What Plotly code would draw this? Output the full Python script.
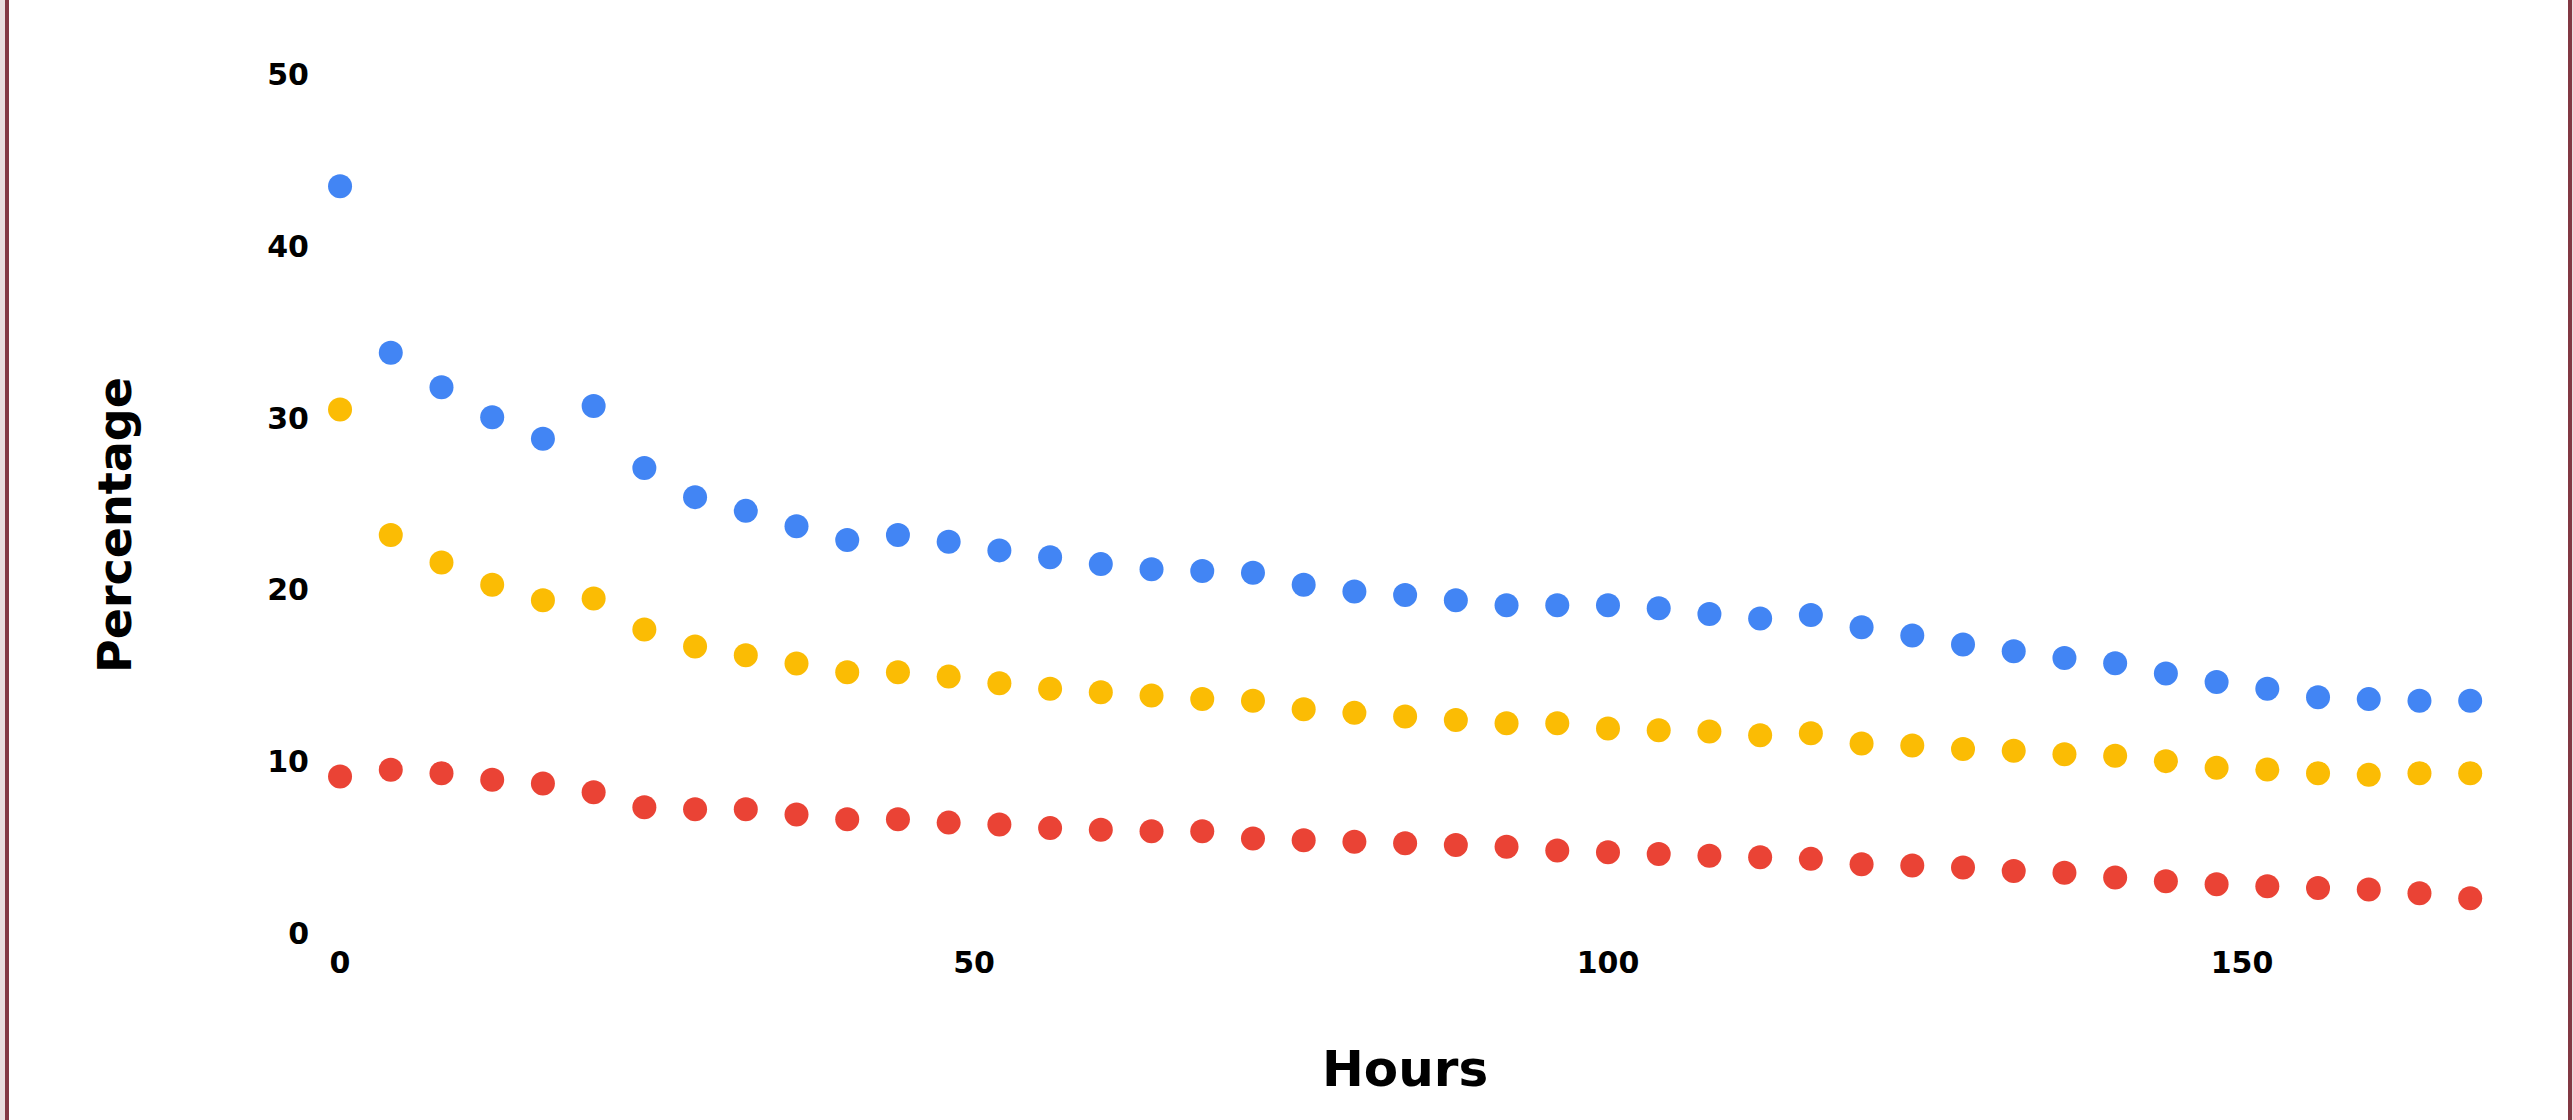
import plotly.graph_objects as go

hours = [0, 4, 8, 12, 16, 20, 24, 28, 32, 36, 40, 44, 48, 52, 56, 60, 64, 68, 72, 76, 80,
         84, 88, 92, 96, 100, 104, 108, 112, 116, 120, 124, 128, 132, 136, 140, 144, 148,
         152, 156, 160, 164, 168]

blue_vals = [43.5, 33.8, 31.8, 30.05, 28.8, 30.7, 27.1, 25.4, 24.6, 23.7, 22.9, 23.2, 22.8,
             22.3, 21.9, 21.5, 21.2, 21.1, 21.0, 20.3, 19.9, 19.7, 19.4, 19.1, 19.1, 19.1,
             18.93, 18.6, 18.33, 18.54, 17.83, 17.34, 16.82, 16.43, 16.04, 15.73, 15.13,
             14.64, 14.25, 13.75, 13.64, 13.55, 13.55]

yellow_vals = [30.5, 23.2, 21.6, 20.3, 19.4, 19.5, 17.7, 16.7, 16.2, 15.72, 15.2, 15.2, 14.95,
               14.56, 14.25, 14.04, 13.85, 13.65, 13.55, 13.05, 12.84, 12.63, 12.42, 12.24,
               12.24, 11.93, 11.83, 11.75, 11.54, 11.65, 11.05, 10.94, 10.73, 10.63, 10.43,
               10.34, 10.03, 9.64, 9.54, 9.33, 9.23, 9.33, 9.33]

red_vals = [9.14, 9.53, 9.33, 8.94, 8.73, 8.22, 7.35, 7.23, 7.23, 6.92, 6.64, 6.64, 6.45,
            6.34, 6.13, 6.03, 5.95, 5.95, 5.53, 5.43, 5.33, 5.25, 5.15, 5.04, 4.83, 4.73,
            4.62, 4.52, 4.44, 4.34, 4.03, 3.95, 3.84, 3.64, 3.53, 3.25, 3.04, 2.86, 2.75,
            2.65, 2.55, 2.34, 2.05]

series = [
    ("Blue", blue_vals, "#4285F4"),
    ("Yellow", yellow_vals, "#FBBC04"),
    ("Red", red_vals, "#EA4335"),
]

x_ticks = [0, 50, 100, 150]
y_ticks = [0, 10, 20, 30, 40, 50]

W, H = 2573, 1120
L, R, T, B = 310, 63, 66, 178
PW = W - L - R
PH = H - T - B

def px_to_xp(px):
    return (px - L) / PW

def px_to_yp(py):
    return (H - B - py) / PH

FONT = "DejaVu Sans"

fig = go.Figure()
for name, vals, color in series:
    fig.add_trace(go.Scatter(
        x=hours, y=vals, mode="markers", name=name,
        marker=dict(color=color, size=24, line=dict(width=0)),
        showlegend=False,
    ))

fig.update_layout(
    width=W, height=H,
    margin=dict(l=L, r=R, t=T, b=B, pad=0),
    paper_bgcolor="white", plot_bgcolor="white",
    font=dict(family=FONT, color="black"),
    xaxis=dict(
        range=[-2.37, 171.14], tickvals=x_ticks, ticktext=[str(v) for v in x_ticks],
        showgrid=False, zeroline=False, showline=False, ticks="",
        tickfont=dict(family=FONT, size=30, color="black", weight="bold"),
    ),
    yaxis=dict(
        range=[-0.5, 50.5], tickvals=y_ticks, ticktext=[str(v) for v in y_ticks],
        showgrid=False, zeroline=False, showline=False, ticks="",
        tickfont=dict(family=FONT, size=30, color="black", weight="bold"),
    ),
    annotations=[
        dict(text="<b>Hours</b>", xref="paper", yref="paper",
             x=px_to_xp(1405), y=px_to_yp(1069), xanchor="center", yanchor="middle",
             showarrow=False, font=dict(family=FONT, size=50, color="black")),
        dict(text="<b>Percentage</b>", xref="paper", yref="paper",
             x=px_to_xp(115), y=px_to_yp(525), xanchor="center", yanchor="middle",
             textangle=-90, showarrow=False, font=dict(family=FONT, size=46, color="black")),
    ],
    shapes=[
        dict(type="rect", xref="paper", yref="paper", x0=px_to_xp(-2), x1=px_to_xp(5),
             y0=px_to_yp(H + 5), y1=px_to_yp(-5), fillcolor="#e8dcdd", line=dict(width=0), layer="above"),
        dict(type="rect", xref="paper", yref="paper", x0=px_to_xp(5), x1=px_to_xp(9),
             y0=px_to_yp(H + 5), y1=px_to_yp(-5), fillcolor="#823843", line=dict(width=0), layer="above"),
        dict(type="rect", xref="paper", yref="paper", x0=px_to_xp(2568), x1=px_to_xp(2572),
             y0=px_to_yp(H + 5), y1=px_to_yp(-5), fillcolor="#823843", line=dict(width=0), layer="above"),
        dict(type="rect", xref="paper", yref="paper", x0=px_to_xp(2572), x1=px_to_xp(2576),
             y0=px_to_yp(H + 5), y1=px_to_yp(-5), fillcolor="#e8dcdd", line=dict(width=0), layer="above"),
    ],
)

fig.write_html(
    "out.html",
    config={"displayModeBar": False},
    post_script="document.body.style.margin='0';document.body.style.overflow='hidden';",
)
